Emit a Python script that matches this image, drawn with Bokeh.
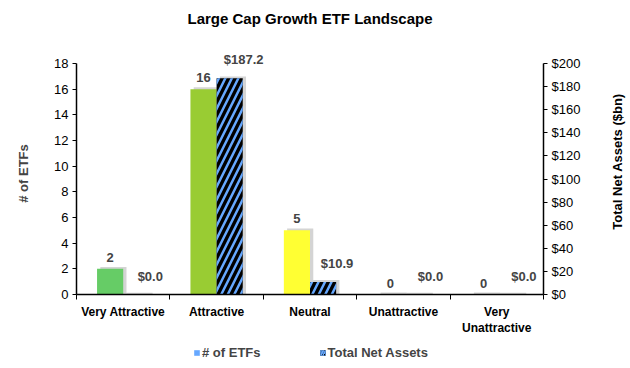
import math
from bokeh.plotting import figure
from bokeh.layouts import column, row
from bokeh.models import (ColumnDataSource, Range1d, LinearAxis, FixedTicker, LabelSet, Label,
                          Legend, LegendItem, Title, NumeralTickFormatter)
from bokeh.core.properties import value
from bokeh.transform import dodge
from bokeh.embed import file_html
from bokeh.resources import INLINE

categories = ["Very Attractive", "Attractive", "Neutral", "Unattractive", "Very Unattractive"]
tick_labels = ["Very Attractive", "Attractive", "Neutral", "Unattractive", "Very\nUnattractive"]
num_etfs = [2, 16, 5, 0, 0]
net_assets = [0.0, 187.2, 10.9, 0.0, 0.0]
count_colors = ["#66CC66", "#99CC33", "#FFFF33", "#99CC33", "#99CC33"]
left_ticks = list(range(0, 19, 2))
right_ticks = list(range(0, 201, 20))
series_names = ["# of ETFs", "Total Net Assets"]
right_title = "Total Net Assets ($bn)"

FONT = "Liberation Sans"
BAR_W = 0.28
BLUE = "#66A8FF"

# layout: axes span 231px; frame extends 11px higher so top labels are not clipped
AXIS_PX = 231
HEAD_PX = 11
FRAME_H = AXIS_PX + HEAD_PX
L_MAX = left_ticks[-1]
R_MAX = right_ticks[-1]
MAIN_W, MAIN_H = 600, 344
SIDE_W = 630 - MAIN_W
LEG_H = 368 - MAIN_H

xc = [i + 0.5 for i in range(len(categories))]
src = ColumnDataSource(dict(
    xc=xc,
    cnt=num_etfs,
    cnt_sh=[v + 0.15 for v in num_etfs],
    cnt_lbl=[str(v) for v in num_etfs],
    assets=net_assets,
    assets_sh=[v + 1.6 for v in net_assets],
    assets_lbl=["$%.1f" % v for v in net_assets],
    color=count_colors,
))

p = figure(frame_width=467, frame_height=FRAME_H, output_backend="svg", toolbar_location=None,
           title=None,
           x_range=Range1d(0, 5), y_range=Range1d(0, L_MAX * FRAME_H / AXIS_PX),
           min_border_left=76, min_border_right=MAIN_W - 76 - 467, min_border_top=63 - HEAD_PX,
           min_border_bottom=MAIN_H - (63 - HEAD_PX) - FRAME_H)
p.extra_y_ranges = {"assets": Range1d(0, R_MAX * FRAME_H / AXIS_PX)}
p.outline_line_color = None
p.xgrid.grid_line_color = None
p.ygrid.grid_line_color = None
p.background_fill_color = "white"
p.border_fill_color = "white"

spacer = Title(text=" ", text_font_size="1px", standoff=21)
p.add_layout(spacer, "above")
title = Title(text="Large Cap Growth ETF Landscape", align="center", offset=15,
              text_font=FONT, text_font_size="15px", text_font_style="bold",
              text_color="black", standoff=4)
p.add_layout(title, "above")

# shadows
p.vbar(x=dodge("xc", -BAR_W / 2 + 0.035, range=p.x_range), top="cnt_sh", width=BAR_W,
       source=src, fill_color="#B8B8B8", fill_alpha=0.6, line_color=None)
p.vbar(x=dodge("xc", BAR_W / 2 + 0.035, range=p.x_range), top="assets_sh", width=BAR_W,
       source=src, fill_color="#B8B8B8", fill_alpha=0.6, line_color=None, y_range_name="assets")

# count bars
p.vbar(x=dodge("xc", -BAR_W / 2, range=p.x_range), top="cnt", width=BAR_W, source=src,
       fill_color="color", line_color=None)
# net assets bars
p.vbar(x=dodge("xc", BAR_W / 2, range=p.x_range), top="assets", width=BAR_W, source=src,
       fill_color="black", line_color=None, hatch_pattern="/", hatch_color=BLUE,
       hatch_scale=13, hatch_weight=2.5, y_range_name="assets")

# labels
p.add_layout(LabelSet(x=dodge("xc", -BAR_W / 2, range=p.x_range), y="cnt", text="cnt_lbl",
                      source=src, text_align="center", text_baseline="bottom", y_offset=7,
                      text_font=value(FONT), text_font_size="13px", text_font_style="bold"))
p.add_layout(LabelSet(x=dodge("xc", BAR_W / 2, range=p.x_range), y="assets", text="assets_lbl",
                      source=src, text_align="center", text_baseline="bottom", y_offset=11,
                      x_offset=14, y_range_name="assets",
                      text_font=value(FONT), text_font_size="13px", text_font_style="bold"))

# axes
xa = p.xaxis[0]
xa.ticker = FixedTicker(ticks=xc, minor_ticks=[0, 1, 2, 3, 4, 5])
xa.major_label_overrides = {x: lbl for x, lbl in zip(xc, tick_labels)}
xa.major_tick_out = 0
xa.major_tick_in = 0
xa.minor_tick_out = 5
xa.minor_tick_in = 0
xa.minor_tick_line_color = "black"
xa.axis_line_color = "black"
xa.axis_line_width = 1.5
xa.major_label_text_font = FONT
xa.major_label_text_font_size = "12px"
xa.major_label_text_font_style = "bold"
xa.major_label_text_color = "black"
xa.major_label_standoff = 5

ya = p.yaxis[0]
ya.ticker = FixedTicker(ticks=left_ticks)
ya.bounds = (0, L_MAX)
ya.axis_label = "# of ETFs"
ya.axis_label_text_font = FONT
ya.axis_label_text_font_size = "13px"
ya.axis_label_text_font_style = "bold"
ya.axis_label_standoff = 20
ya.major_label_text_font = FONT
ya.major_label_text_font_size = "13px"
ya.major_label_text_color = "black"
ya.major_tick_out = 4
ya.major_tick_in = 0
ya.minor_tick_line_color = None
ya.axis_line_color = "black"
ya.axis_line_width = 1.5
ya.major_label_standoff = 4

ra = LinearAxis(y_range_name="assets", ticker=FixedTicker(ticks=right_ticks),
                formatter=NumeralTickFormatter(format="$0"), bounds=(0, R_MAX))
ra.major_label_text_font = FONT
ra.major_label_text_font_size = "13px"
ra.major_label_text_color = "black"
ra.major_tick_out = 4
ra.major_tick_in = 0
ra.minor_tick_line_color = None
ra.axis_line_color = "black"
ra.axis_line_width = 1.5
ra.major_label_standoff = 4
p.add_layout(ra, "right")


def blank(w, h):
    f = figure(width=w, height=h, output_backend="svg", toolbar_location=None, title=None,
               x_range=Range1d(0, 1), y_range=Range1d(0, 1), min_border=0,
               x_axis_location=None, y_axis_location=None)
    f.outline_line_color = None
    f.xgrid.grid_line_color = None
    f.ygrid.grid_line_color = None
    f.background_fill_color = "white"
    f.border_fill_color = "white"
    return f


# right-hand axis title, reading bottom to top (its frame is aligned with the main frame)
side = blank(SIDE_W, MAIN_H)
side.add_layout(Label(x=17, y=294 - 161, x_units="screen", y_units="screen",
                      text=right_title, angle=math.pi / 2, text_align="center",
                      text_baseline="middle", text_font=FONT, text_font_size="13px",
                      text_font_style="bold", text_color="black"))

# legend strip (proxy glyphs sit outside the visible range)
leg = blank(630, LEG_H)
proxy = ColumnDataSource(dict(x=[-1], top=[0]))
leg_cnt = leg.vbar(x="x", top="top", width=0.1, source=proxy, fill_color=BLUE, line_color=None)
leg_ast = leg.vbar(x="x", top="top", width=0.1, source=proxy, fill_color="black",
                   line_color=None, hatch_pattern="/", hatch_color=BLUE, hatch_scale=5,
                   hatch_weight=2)
legend = Legend(items=[LegendItem(label=series_names[0], renderers=[leg_cnt]),
                       LegendItem(label=series_names[1], renderers=[leg_ast])],
                orientation="horizontal", location=(193, 8),
                glyph_width=7, glyph_height=7, label_standoff=2, spacing=58,
                padding=0, margin=0, border_line_color=None, background_fill_alpha=0,
                label_text_font=FONT, label_text_font_size="13px",
                label_text_font_style="bold", label_height=14)
leg.add_layout(legend, "center")

layout = column(row(p, side, spacing=0), leg, spacing=0)
open("out.html", "w").write(file_html(layout, INLINE))
